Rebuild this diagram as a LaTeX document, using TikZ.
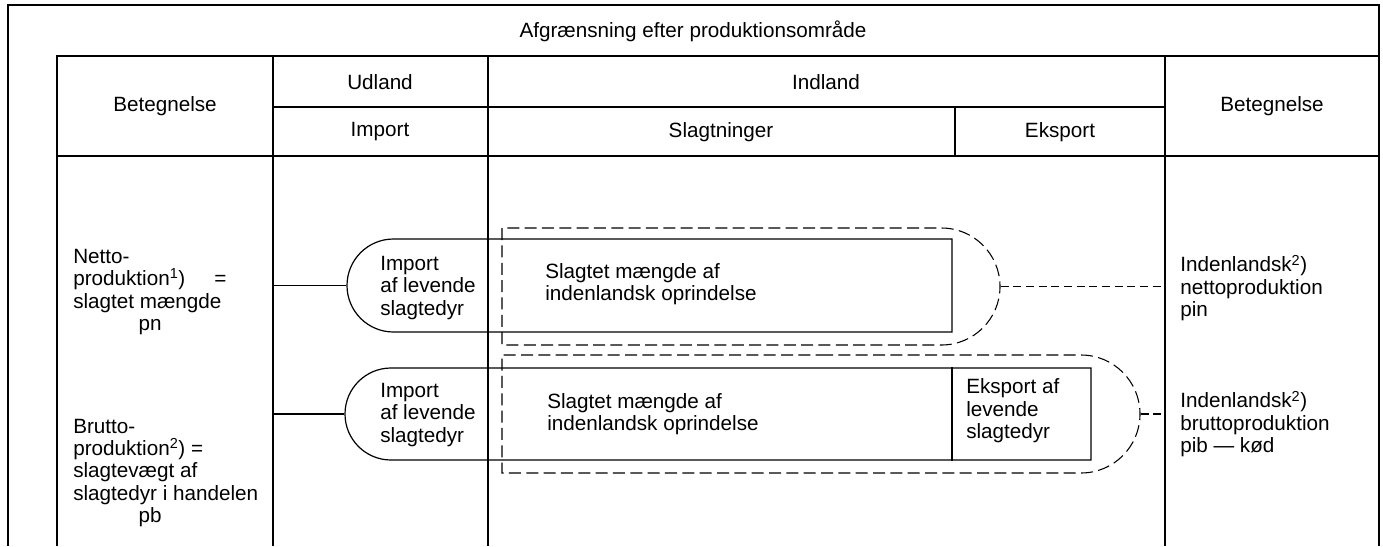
\documentclass[tikz,border=0pt]{standalone}
\usepackage{fontspec}
\setmainfont{Liberation Sans}
\usetikzlibrary{shapes.misc}

\begin{document}
\begin{tikzpicture}[x=0.75pt,y=-0.75pt,
        font=\fontsize{15.5}{16.8}\selectfont,
        frame/.style={line width=1.8pt},
        head node/.style={inner sep=0pt},
        text node/.style={align=left,anchor=west,inner sep=0pt},
        flow node/.style={rounded rectangle,rounded rectangle right arc=none,
            draw,line width=0.9pt,inner sep=0pt},
        area node/.style={rounded rectangle,rounded rectangle left arc=none,
            draw,line width=0.8pt,dash pattern=on 9pt off 4pt,inner sep=0pt},
        link/.style={line width=0.8pt}]

    \fill[white] (0,0) rectangle (1383,546);
    \useasboundingbox (0,0) rectangle (1383,546);

    % frame and table
    \draw[frame] (8,546) -- (8,5) -- (1379,5) -- (1379,546);
    \draw[frame] (57,546) -- (57,56) -- (1379,56);
    \draw[frame] (57,156) -- (1379,156);
    \draw[frame] (273,107) -- (1165,107);
    \draw[frame] (273,56) -- (273,546);
    \draw[frame] (488,56) -- (488,546);
    \draw[frame] (1165,56) -- (1165,546);
    \draw[frame] (955,107) -- (955,156);
    \coordinate (col1) at (273,0);
    \coordinate (col4) at (1165,0);

    % headings
    \node[head node] (title) at (693,31) {Afgrænsning efter produktionsområde};
    \node[head node] (bet1) at (165,106) {Betegnelse};
    \node[head node] (udland) at (380,82) {Udland};
    \node[head node] (import) at (380,132) {Import};
    \node[head node] (indland) at (826,82) {Indland};
    \node[head node] (slagt) at (721,132) {Slagtninger};
    \node[head node] (eksport) at (1060,132) {Eksport};
    \node[head node] (bet2) at (1272,106) {Betegnelse};

    % left column
    \node[text node] (netto) at (73,292) {Netto-\\produktion\textsuperscript{1})\hspace{1.4em}=\\slagtet mængde\\\hspace*{49pt}pn};
    \node[text node] (brutto) at (73,473) {Brutto-\\produktion\textsuperscript{2}) =\\slagtevægt af\\slagtedyr i handelen\\\hspace*{49pt}pb};

    % areas
    \node[area node,minimum width=373.5pt,minimum height=87.75pt] (area1) at (751,286.5) {};
    \node[area node,minimum width=478.5pt,minimum height=88.5pt] (area2) at (821,414) {};
    \node[flow node,minimum width=453.75pt,minimum height=69.75pt] (flow1) at (649.5,285.5) {};
    \node[flow node,minimum width=559.5pt,minimum height=69pt] (flow2) at (718,414) {};
    \draw[line width=0.9pt] (952,0 |- flow2.north) -- (952,0 |- flow2.south);

    \node[text node] (imp1) at (380,288) {Import\\af levende\\slagtedyr};
    \node[text node] (imp2) at (380,415) {Import\\af levende\\slagtedyr};
    \node[text node] (sl1) at (545,284) {Slagtet mængde af\\indenlandsk oprindelse};
    \node[text node] (sl2) at (547,414) {Slagtet mængde af\\indenlandsk oprindelse};
    \node[text node] (eks) at (966,411) {Eksport af\\levende\\slagtedyr};

    % right column
    \node[text node] (pin) at (1180,288) {Indenlandsk\textsuperscript{2})\\nettoproduktion\\pin};
    \node[text node] (pib) at (1180,424) {Indenlandsk\textsuperscript{2})\\bruttoproduktion\\pib — kød};

    % connectors
    \draw[link] (flow1.west -| col1) -- (flow1.west);
    \draw[link] (flow2.west -| col1) -- (flow2.west);
    \draw[link,dash pattern=on 6pt off 3.5pt] (area1.east) -- (area1.east -| col4);
    \draw[link,dash pattern=on 6pt off 3.5pt] (area2.east) -- (area2.east -| col4);
\end{tikzpicture}
\end{document}
